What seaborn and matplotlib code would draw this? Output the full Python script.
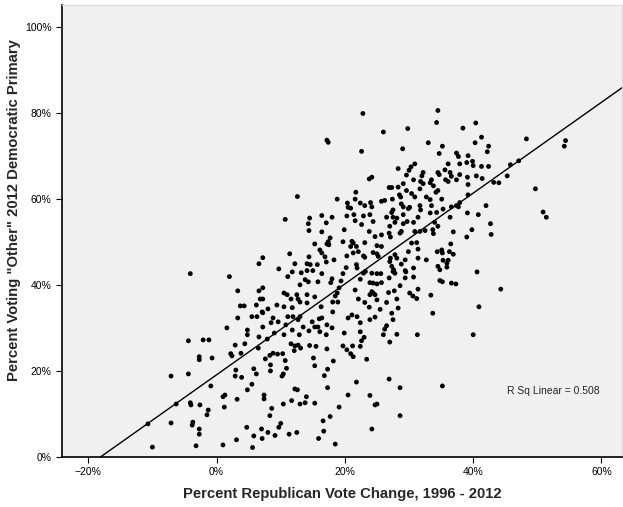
import matplotlib.pyplot as plt
import matplotlib.ticker as mtick
import pandas as pd
import seaborn as sns

# counties: (percent Republican vote change 1996-2012, percent voting "Other" 2012 Dem primary)
left_tail = [
    (-4.4, 27.0), (-2.1, 27.2), (-1.2, 27.2), (-2.7, 23.3), (-2.7, 22.6), (-0.7, 23.0),
    (-7.1, 18.8), (-4.4, 19.3), (-0.9, 16.5), (1.3, 14.4), (1.0, 14.0), (-4.1, 12.6),
    (-4.0, 12.1), (-2.6, 12.1), (-1.3, 10.9), (-1.5, 9.8), (1.2, 11.6), (-7.1, 7.9),
    (-3.7, 8.1), (-3.8, 7.4), (-2.7, 6.5), (-2.7, 5.3), (-10.0, 2.3), (-3.2, 2.6),
    (1.0, 2.8), (-10.7, 7.7), (-6.3, 12.3), (-4.1, 42.6), (2.0, 41.9), (1.6, 30.0),
]

upper_mid = [
    (17.2, 73.6), (17.4, 73.1), (12.6, 60.5), (18.8, 59.9), (20.4, 59.0), (20.5, 58.0),
    (10.7, 55.2), (14.5, 55.5), (16.4, 56.1), (18.0, 55.7), (20.3, 56.0),
]

middle = [
    (14.3, 54.2), (17.1, 54.4), (14.4, 52.6), (16.4, 52.3), (19.9, 52.8), (17.7, 50.9),
    (17.4, 50.0), (17.2, 49.5), (17.5, 49.3), (15.3, 49.5), (19.7, 50.0), (16.1, 48.1),
    (16.4, 47.4), (11.4, 47.2), (7.2, 46.3), (14.4, 46.5), (16.9, 46.5), (17.1, 45.3),
    (18.3, 45.8), (20.3, 46.7), (6.6, 44.9), (12.2, 44.9), (14.1, 44.9), (14.6, 44.7),
    (15.7, 44.7), (9.7, 43.7), (20.2, 44.0), (11.8, 43.0), (13.2, 42.8), (14.1, 43.3),
    (15.0, 43.3), (16.4, 42.6), (19.7, 42.6), (11.1, 41.9), (13.8, 41.2), (14.3, 40.7),
    (15.8, 40.7), (18.0, 41.4), (17.8, 40.5), (19.4, 40.9), (13.0, 40.0), (7.2, 39.3),
    (6.6, 38.6), (3.3, 38.6), (19.1, 39.3), (10.5, 38.1), (11.0, 37.7), (12.5, 37.7),
    (14.1, 37.7), (18.8, 38.1), (18.5, 37.4), (6.8, 36.7), (7.2, 36.7), (11.6, 36.7),
    (12.7, 36.7), (13.0, 36.0), (15.3, 37.2), (18.1, 36.0), (18.9, 36.0), (9.4, 35.3),
    (10.5, 34.9), (14.1, 35.8), (3.7, 35.1), (4.3, 35.1), (6.2, 35.3), (16.3, 34.9),
    (8.0, 34.4), (7.1, 33.7), (7.2, 33.5), (11.8, 34.7), (18.1, 33.7), (5.5, 32.6),
    (6.3, 32.6), (3.3, 32.3), (8.8, 32.3), (11.1, 32.6), (11.9, 32.6), (13.0, 32.6),
    (12.7, 31.9), (16.0, 32.1), (16.4, 32.3), (20.5, 32.3), (9.6, 31.4), (8.5, 31.2),
    (14.9, 31.4), (10.8, 30.7), (15.3, 30.2), (15.8, 30.2), (17.2, 30.7), (7.2, 30.2),
    (13.5, 30.2), (11.8, 29.5), (18.0, 30.0), (4.8, 29.5), (4.8, 28.4), (14.4, 29.3),
    (16.1, 29.1), (9.0, 28.8), (10.5, 28.4), (6.6, 27.9), (7.9, 27.4), (17.1, 28.4),
    (19.9, 28.8), (12.9, 28.4),
]

upper_right = [
    (22.8, 79.8), (34.5, 80.5), (34.3, 77.7), (26.0, 75.5), (29.8, 76.3), (38.4, 76.4),
    (33.0, 73.0), (35.2, 72.2), (22.6, 71.0), (29.0, 71.6), (34.7, 70.5), (37.4, 70.6),
    (37.7, 69.8), (39.2, 70.0), (39.0, 68.4), (37.9, 68.1), (36.1, 68.1), (30.9, 68.1),
    (30.3, 67.4), (30.0, 66.6), (28.3, 67.0), (32.2, 66.1), (32.0, 65.3), (34.5, 66.1),
    (34.7, 65.6), (35.6, 66.7), (36.4, 66.1), (36.6, 65.2), (29.6, 65.5), (37.9, 65.6),
    (39.1, 65.0), (24.2, 65.0), (23.8, 64.6), (30.7, 64.4), (33.5, 64.4), (33.3, 63.7),
    (31.8, 64.0), (32.2, 63.5), (35.7, 64.4), (36.1, 64.0), (37.4, 64.4), (29.1, 63.5),
    (33.8, 63.0), (26.9, 62.6), (27.3, 62.6), (28.3, 62.7), (31.7, 62.3), (39.2, 63.3),
    (34.5, 61.9), (34.2, 61.5), (21.7, 61.5), (29.6, 61.9), (28.5, 60.9), (28.7, 60.4),
    (30.4, 61.2), (30.9, 60.4), (32.7, 60.4), (33.3, 59.8), (35.1, 59.9), (21.6, 59.9),
    (25.7, 59.4), (26.2, 59.6), (27.4, 59.9), (39.2, 60.9), (37.9, 59.1), (22.4, 59.0),
    (23.1, 58.4), (24.0, 59.1), (28.8, 58.8), (29.1, 58.1), (31.7, 58.4), (33.5, 58.4),
    (29.9, 57.7), (30.1, 58.0), (20.9, 57.8), (24.2, 58.1), (27.5, 57.4), (27.3, 56.8),
    (31.8, 57.4), (33.3, 56.7), (34.3, 56.8), (35.3, 57.6), (36.6, 58.1), (37.4, 58.4),
    (37.7, 58.1), (21.4, 56.3), (22.9, 56.0), (23.9, 56.3), (26.5, 55.7), (27.5, 55.7),
    (28.1, 55.5), (29.1, 56.3), (31.4, 55.7), (36.4, 55.7), (39.1, 56.7),
]

far_right = [
    (40.4, 77.6), (41.3, 74.3), (40.3, 73.0), (42.4, 72.2), (42.2, 70.9), (48.3, 73.9),
    (54.4, 73.5), (54.2, 72.2), (39.9, 68.7), (40.0, 67.7), (41.3, 67.5), (42.4, 67.5),
    (47.1, 68.8), (45.8, 67.9), (40.5, 65.3), (41.4, 64.7), (45.3, 65.3), (43.2, 63.8),
    (44.0, 63.7), (49.7, 62.3), (42.0, 58.4), (40.8, 56.3), (50.9, 56.9), (51.4, 55.7),
    (42.7, 54.2), (39.8, 52.8), (42.8, 51.7), (40.6, 43.0), (44.3, 39.0), (40.9, 34.9),
    (40.0, 28.4),
]

right_middle = [
    (21.6, 54.9), (22.6, 54.0), (24.4, 54.7), (27.0, 53.6), (27.8, 54.5), (29.1, 54.2),
    (29.7, 54.7), (30.7, 54.5), (34.0, 54.5), (34.5, 53.6), (23.8, 52.4), (24.7, 51.2),
    (25.7, 51.6), (26.9, 52.0), (27.1, 51.1), (28.6, 52.0), (28.8, 52.4), (30.9, 52.4),
    (31.7, 52.4), (32.5, 52.6), (33.7, 52.8), (33.8, 51.9), (36.9, 52.3), (39.0, 51.1),
    (21.1, 50.1), (21.3, 49.7), (20.9, 48.9), (21.8, 48.9), (22.1, 47.7), (21.3, 47.4),
    (23.1, 49.8), (25.0, 49.1), (25.7, 48.9), (30.4, 49.7), (31.2, 49.8), (36.5, 49.5),
    (24.4, 47.5), (25.0, 47.2), (25.2, 46.6), (22.9, 46.7), (23.1, 46.4), (27.1, 46.2),
    (27.0, 45.4), (27.8, 47.0), (28.1, 46.2), (29.9, 47.7), (31.4, 48.3), (34.4, 47.7),
    (35.1, 48.1), (35.2, 47.4), (36.3, 47.7), (36.9, 47.1), (29.4, 45.8), (31.4, 46.2),
    (32.7, 45.8), (35.3, 45.7), (36.1, 45.7), (35.9, 45.0), (21.8, 44.7), (21.9, 43.9),
    (27.3, 44.3), (27.6, 43.5), (28.8, 44.8), (30.7, 43.9), (34.5, 44.3), (34.8, 43.5),
    (35.9, 44.1), (23.2, 43.1), (22.9, 42.7), (24.2, 42.7), (25.0, 42.6), (25.6, 42.6),
    (27.5, 43.1), (27.8, 42.7), (29.4, 43.3), (29.5, 43.0), (29.4, 41.6), (30.7, 41.8),
    (22.4, 41.3), (26.9, 41.6), (23.9, 40.5), (24.4, 40.4), (25.0, 40.2), (25.7, 40.5),
    (28.6, 39.8), (34.8, 41.0), (35.2, 40.7), (36.6, 40.4), (37.3, 40.2), (21.6, 38.8),
    (24.2, 38.4), (24.4, 38.1), (24.7, 37.7), (23.9, 37.7), (26.8, 38.2), (27.7, 38.6),
    (30.1, 38.1), (30.6, 37.4), (31.4, 39.0), (33.4, 37.6), (22.1, 36.7), (23.1, 35.9),
    (25.0, 36.5), (26.5, 35.9), (28.1, 36.7), (31.2, 36.8), (23.8, 34.8), (25.5, 34.3),
    (28.3, 34.6), (27.3, 33.4), (21.1, 33.0), (21.9, 32.6), (24.7, 32.5), (23.9, 31.9),
    (33.7, 33.4), (22.4, 31.2), (27.5, 31.9), (26.5, 30.5), (26.2, 29.7), (22.4, 29.1),
    (28.1, 28.5), (31.3, 28.4), (23.0, 27.8), (26.0, 28.4),
]

lower_left = [
    (2.9, 26.0), (4.4, 26.3), (2.2, 24.0), (2.4, 23.5), (3.8, 24.1), (6.5, 25.3),
    (7.6, 22.8), (8.3, 23.6), (8.8, 24.1), (9.5, 23.9), (10.3, 24.0), (11.6, 26.3),
    (12.2, 25.8), (12.7, 26.0), (13.1, 25.3), (12.1, 24.7), (14.5, 25.9), (15.5, 25.7),
    (17.2, 25.1), (19.7, 25.8), (20.3, 24.9), (15.1, 23.0), (18.2, 22.3), (8.4, 21.4),
    (10.7, 22.4), (15.3, 21.2), (17.3, 20.4), (3.0, 20.2), (5.8, 20.5), (8.4, 20.0),
    (10.9, 20.6), (2.9, 18.8), (3.9, 18.5), (6.2, 19.3), (10.2, 18.8), (10.4, 19.3),
    (16.8, 18.9), (5.5, 16.9), (4.8, 15.6), (17.3, 16.1), (12.2, 15.8), (12.6, 15.6),
    (7.4, 14.4), (7.4, 13.5), (3.2, 13.4), (20.5, 14.4), (14.0, 14.0), (11.7, 13.1),
    (13.8, 12.6), (13.0, 12.3), (15.3, 12.5), (10.4, 12.3), (8.6, 11.3), (19.1, 11.6),
    (8.3, 9.6), (17.7, 9.4), (10.0, 7.8), (9.7, 6.9), (16.6, 8.4), (4.7, 6.9),
    (7.0, 6.5), (8.0, 5.7), (7.1, 4.3), (9.1, 5.0), (5.8, 4.9), (11.3, 5.3),
    (12.5, 5.7), (16.7, 6.0), (3.1, 4.0), (15.9, 4.3), (5.6, 2.2), (18.5, 3.0),
]

lower_right = [
    (21.2, 25.8), (22.4, 25.7), (22.6, 27.0), (27.0, 26.7), (20.9, 24.0), (21.3, 23.3),
    (23.4, 22.7), (21.8, 17.4), (26.9, 18.1), (28.6, 16.1), (35.2, 16.5), (23.9, 14.3),
    (24.7, 12.1), (25.0, 12.3), (28.6, 9.6), (24.2, 6.5),
]

# fitted line
fit_intercept = 19.1
fit_slope = 1.055
r_sq_text = "R Sq Linear = 0.508"

x_ticks = [-20, 0, 20, 40, 60]
y_ticks = [0, 20, 40, 60, 80, 100]

points = left_tail + upper_mid + middle + upper_right + far_right + right_middle + lower_left + lower_right
df = pd.DataFrame(points, columns=["rep_change", "other_pct"])

sns.set_theme(style="white")
plt.rcParams["font.family"] = ["Liberation Sans", "DejaVu Sans"]

fig = plt.figure(figsize=(6.23, 5.07), dpi=100)
ax = fig.add_axes([62 / 623, 50 / 507, 560 / 623, 452 / 507])
ax.set_facecolor("#f0f0f0")

sns.scatterplot(data=df, x="rep_change", y="other_pct", color="black", s=12,
                edgecolor="none", ax=ax, zorder=3)
ax.axline((0, fit_intercept), slope=fit_slope, color="black", lw=1.0, zorder=2)

ax.set_xlim(-24.1, 63.2)
ax.set_ylim(0, 105)
ax.set_xticks(x_ticks)
ax.set_yticks(y_ticks)
ax.xaxis.set_major_formatter(mtick.PercentFormatter(decimals=0))
ax.yaxis.set_major_formatter(mtick.PercentFormatter(decimals=0))
ax.tick_params(axis="both", which="major", length=4, width=0.8, labelsize=7.5,
               color="black", labelcolor="black", direction="out", bottom=True, left=True)

for side in ["left", "bottom"]:
    ax.spines[side].set_color("black")
    ax.spines[side].set_linewidth(1.2)
for side in ["top", "right"]:
    ax.spines[side].set_color("#d8d8d8")
    ax.spines[side].set_linewidth(0.8)

ax.set_xlabel("Percent Republican Vote Change, 1996 - 2012", fontsize=10.7,
              fontweight="bold", labelpad=7)
ax.set_ylabel('Percent Voting "Other" 2012 Democratic Primary', fontsize=10.7,
              fontweight="bold")
ax.yaxis.set_label_coords(-0.074, 0.546)
ax.text(45.3, 15.3, r_sq_text, fontsize=7.5, ha="left", va="center")

fig.savefig("out.png", dpi=100)
